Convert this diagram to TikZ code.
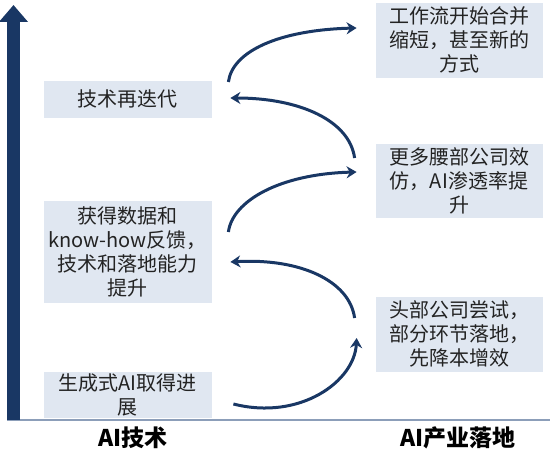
\documentclass[tikz,border=0pt]{standalone}
\usepackage{fontspec}
\setmainfont{Noto Sans CJK SC}
\usetikzlibrary{arrows.meta,calc}
\definecolor{navy}{RGB}{25,55,100}
\definecolor{boxfill}{RGB}{224,231,241}
\definecolor{axisline}{RGB}{140,158,185}
\definecolor{txt}{RGB}{35,35,35}

\begin{document}
\begin{tikzpicture}[x=1pt,y=1pt,
  box/.style={fill=boxfill,draw=white,line width=0.8pt,align=center,inner sep=2pt,text=txt,font=\fontsize{20}{24}\selectfont},
  lbox/.style={box,minimum width=169pt},
  rbox/.style={box,minimum width=168pt},
  flow/.style={navy,line width=3pt,-{Stealth[length=10pt,width=12pt]}},
  axislabel/.style={text=black,font=\fontsize{23}{26}\selectfont\bfseries}]
  \useasboundingbox (0,0) rectangle (550,466);
  % axes
  \draw[axisline,line width=1.5pt] (7,46)--(550,46);
  \draw[navy,line width=13pt,-{Triangle[length=17pt,width=28pt]}] (13.5,46)--(13.5,461);
  % AI side
  \node[lbox,minimum height=38pt] (b1) at (127.5,367) {技术再迭代};
  \node[lbox,minimum height=103pt] (b2) at (127.5,214.5) {获得数据和\\know-how反馈，\\技术和落地能力\\提升};
  \node[lbox,minimum height=46pt] (b3) at (127.5,71) {生成式AI取得进\\展};
  % industry side
  \node[rbox,minimum height=76pt] (r1) at (459,426) {工作流开始合并\\缩短，甚至新的\\方式};
  \node[rbox,minimum height=75pt] (r2) at (459,285.5) {更多腰部公司效\\仿，AI渗透率提\\升};
  \node[rbox,minimum height=76pt] (r3) at (459,132) {头部公司尝试，\\部分环节落地，\\先降本增效};
  \node[axislabel] (tech) at (133,28) {AI技术};
  \node[axislabel] (land) at (458,28) {AI产业落地};
  % loop
  \draw[flow] ($(b3.east)+(21,-9)$) .. controls +(67,-17) and +(-2,-43) .. ($(r3.west)+(-18,-4)$);
  \draw[flow] ($(r3.west)+(-20,16)$) .. controls +(-5,37) and +(70,4) .. ($(b2.east)+(18,-10.5)$);
  \draw[flow] ($(b2.east)+(16,19.5)$) .. controls +(4,31) and +(-77,-2) .. ($(r2.west)+(-18,8.5)$);
  \draw[flow] ($(r2.west)+(-20,22.5)$) .. controls +(-5,37) and +(70,0) .. ($(b1.east)+(18,1)$);
  \draw[flow] ($(b1.east)+(16,17)$) .. controls +(4,31) and +(-77,-2) .. ($(r1.west)+(-18,12)$);
\end{tikzpicture}
\end{document}
